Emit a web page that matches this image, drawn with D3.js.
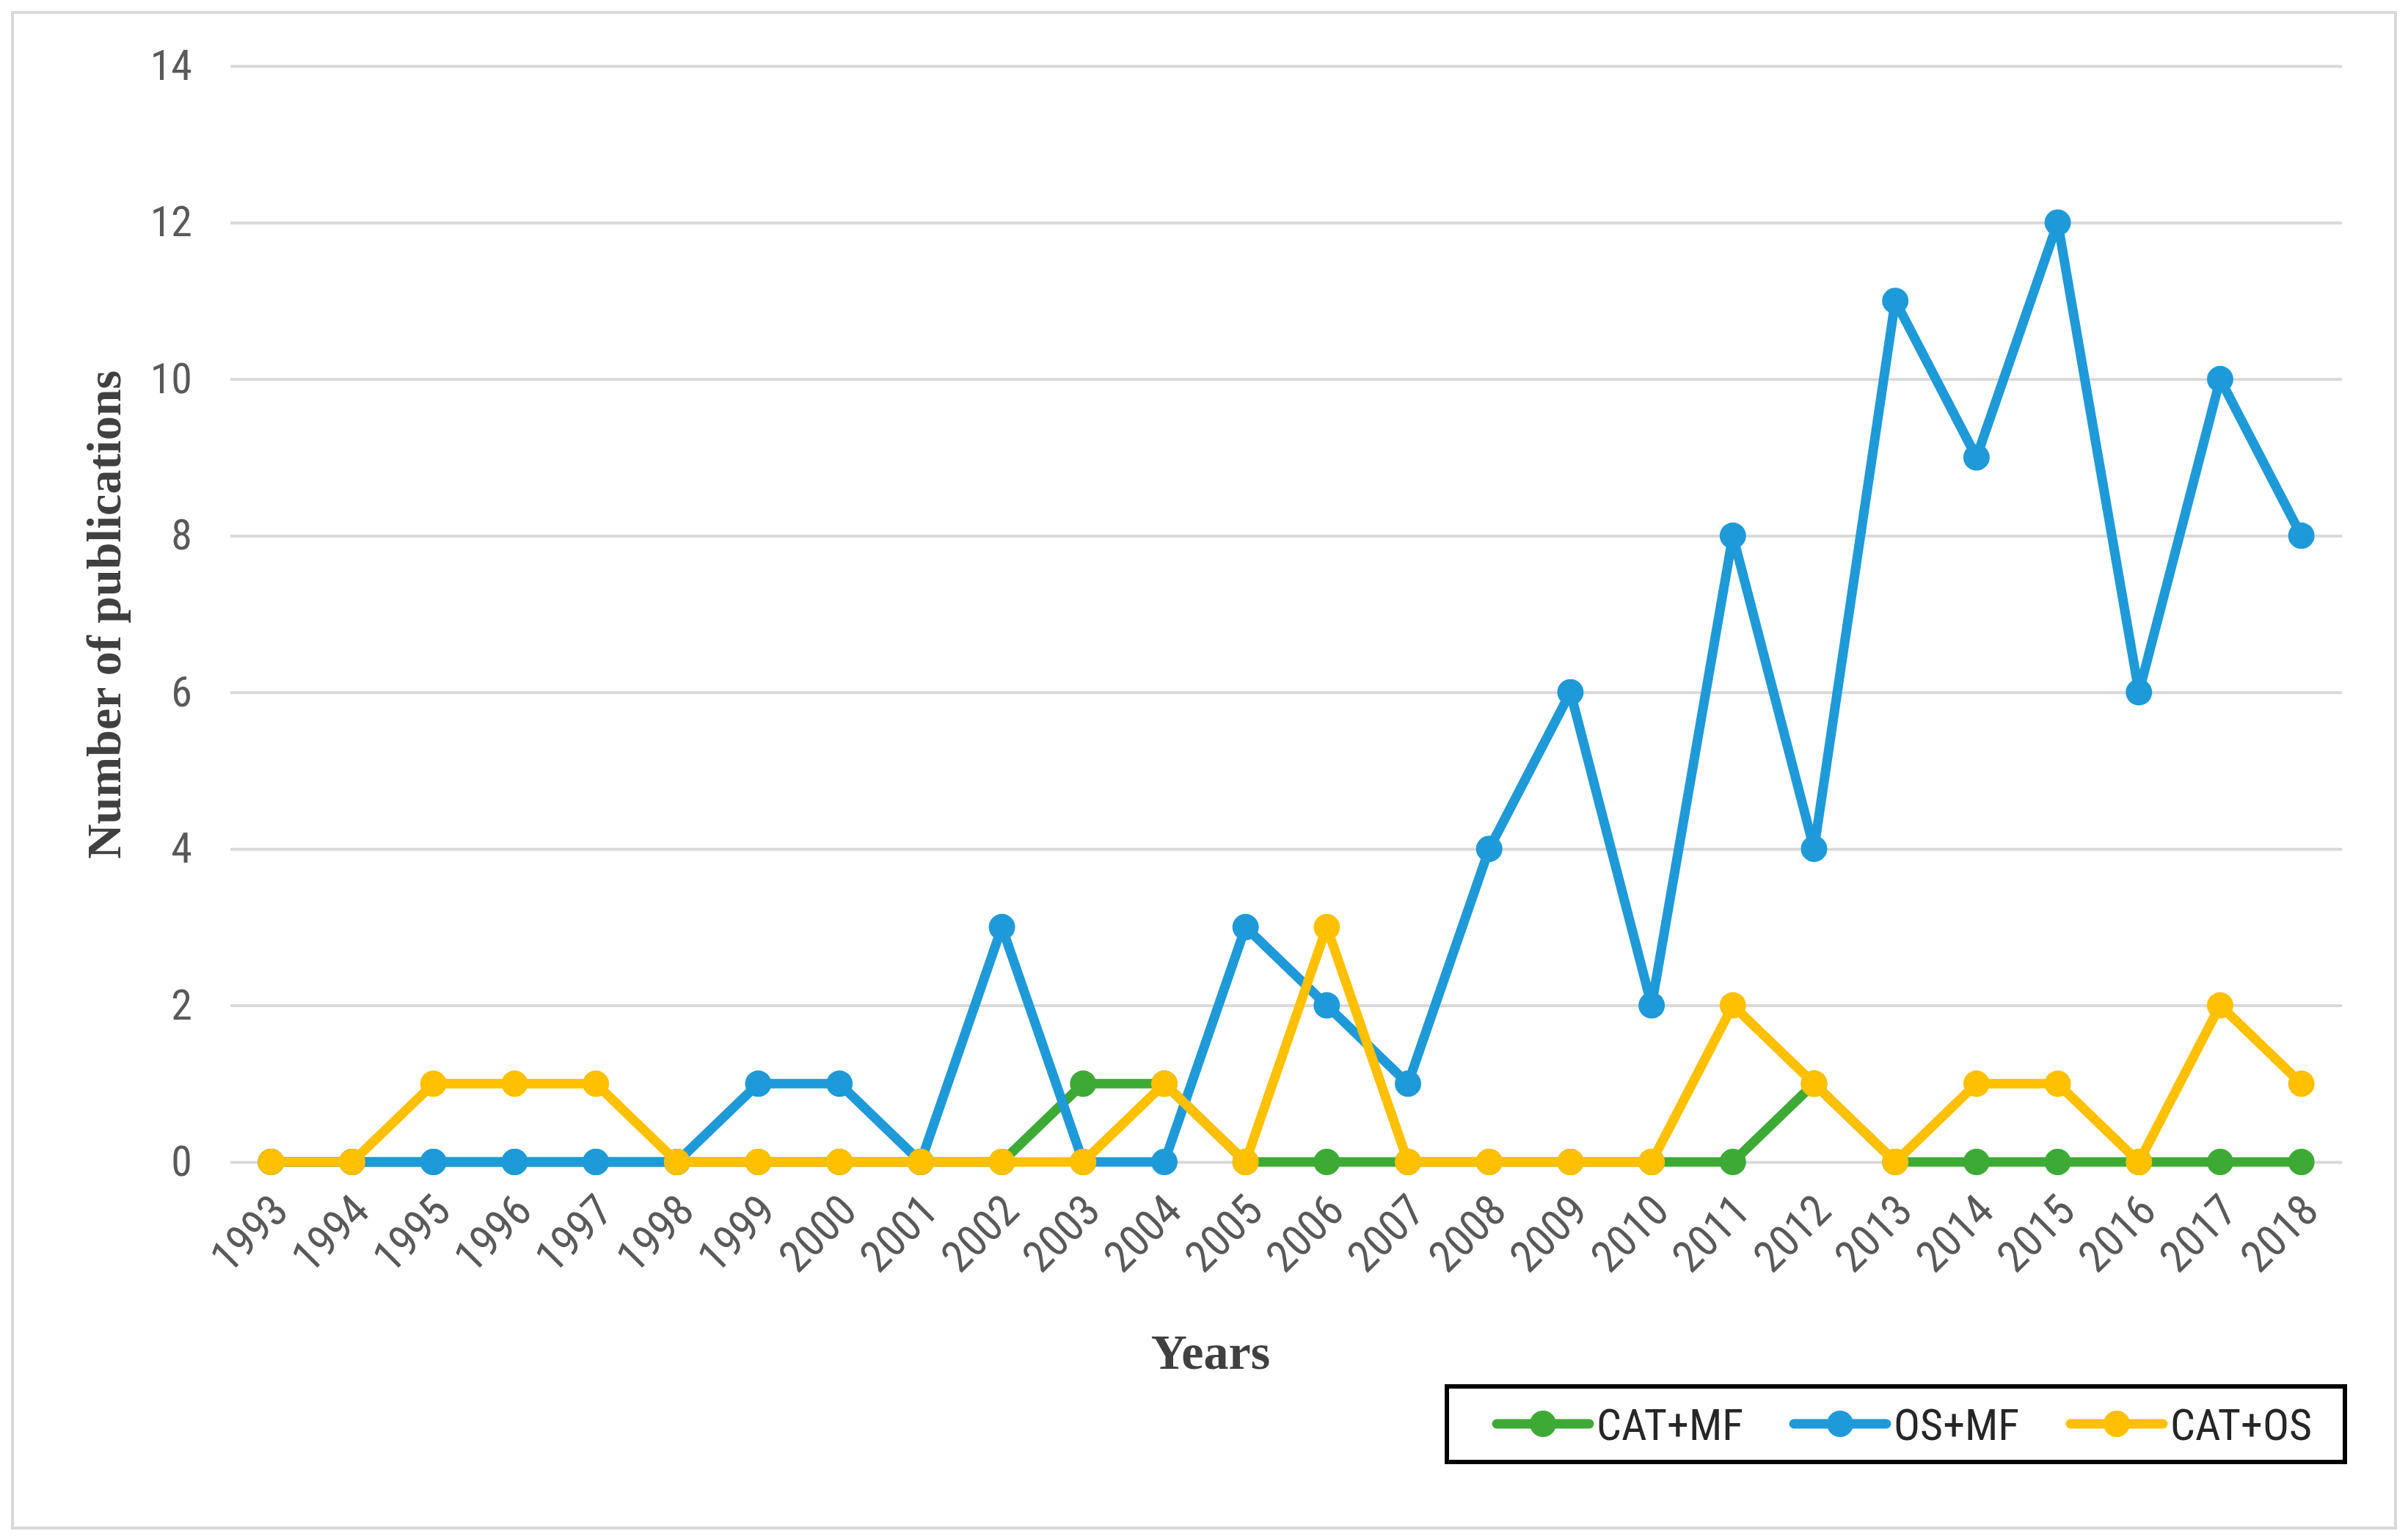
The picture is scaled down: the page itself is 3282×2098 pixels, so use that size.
<!DOCTYPE html>
<html>
<head>
<meta charset="utf-8">
<script src="https://cdn.jsdelivr.net/npm/d3@7"></script>
<style>
  body { margin: 0; background: #fff; }
  .tick text { font-family: "Liberation Sans Narrow", "Roboto Condensed", "Liberation Sans", sans-serif; }
</style>
</head>
<body>
<svg id="chart"></svg>
<script>
// Data
const years = d3.range(1993, 2019).map(String);
const catMf = [0,0,0,0,0,0,0,0,0,0,1,1,0,0,0,0,0,0,0,1,0,0,0,0,0,0];
const osMf  = [0,0,0,0,0,0,1,1,0,3,0,0,3,2,1,4,6,2,8,4,11,9,12,6,10,8];
const catOs = [0,0,1,1,1,0,0,0,0,0,0,1,0,3,0,0,0,0,2,1,0,1,1,0,2,1];
const yTicks = [0, 2, 4, 6, 8, 10, 12, 14];
const seriesNames = ["CAT+MF", "OS+MF", "CAT+OS"];
const seriesColors = ["#3DAA36", "#1F9AD8", "#FFC000"];

// Chart dimensions
const Width = 3282;
const Height = 2098;
const plotLeft = 314, plotRight = 3192, plotTop = 90, plotBottom = 1584;

const svg = d3.select("#chart")
  .attr("width", Width)
  .attr("height", Height);

// Outer frame
svg.append("rect")
  .attr("x", 17).attr("y", 17)
  .attr("width", Width - 34).attr("height", Height - 32)
  .attr("fill", "#fff")
  .attr("stroke", "#D9D9D9")
  .attr("stroke-width", 4);

// Scales
const xScale = d3.scalePoint()
  .domain(years)
  .range([plotLeft, plotRight])
  .padding(0.5);

const yScale = d3.scaleLinear()
  .domain([0, 14])
  .range([plotBottom, plotTop]);

// Y axis with gridlines
const yAxis = svg.append("g")
  .attr("transform", `translate(${plotLeft},0)`)
  .call(d3.axisLeft(yScale).tickValues(yTicks).tickSize(-(plotRight - plotLeft)).tickPadding(52));
yAxis.select(".domain").remove();
yAxis.selectAll("line").attr("stroke", "#D9D9D9").attr("stroke-width", 4);
yAxis.selectAll("text")
  .attr("fill", "#595959")
  .style("font-size", "58px");

// X axis labels
const xAxis = svg.append("g")
  .attr("transform", `translate(0,${plotBottom})`)
  .call(d3.axisBottom(xScale).tickSize(0));
xAxis.select(".domain").remove();
xAxis.selectAll("text")
  .attr("fill", "#595959")
  .style("font-size", "60px")
  .attr("text-anchor", "end")
  .attr("y", 0)
  .attr("dy", 0)
  .attr("transform", "translate(26,70) rotate(-45)");

// Lines and markers
const allSeries = [catMf, osMf, catOs];
const line = d3.line()
  .x((d, i) => xScale(years[i]))
  .y(d => yScale(d));

allSeries.forEach((values, s) => {
  const g = svg.append("g");
  g.append("path")
    .datum(values)
    .attr("d", line)
    .attr("fill", "none")
    .attr("stroke", seriesColors[s])
    .attr("stroke-width", 13)
    .attr("stroke-linejoin", "round");
  g.selectAll("circle")
    .data(values)
    .enter()
    .append("circle")
    .attr("cx", (d, i) => xScale(years[i]))
    .attr("cy", d => yScale(d))
    .attr("r", 18)
    .attr("fill", seriesColors[s]);
});

// Axis titles
svg.append("text")
  .attr("x", 1650)
  .attr("y", 1866)
  .attr("text-anchor", "middle")
  .style("font-family", "'Liberation Serif', 'Times New Roman', serif")
  .style("font-weight", "bold")
  .style("font-size", "68px")
  .attr("fill", "#404040")
  .text("Years");

svg.append("text")
  .attr("transform", "translate(164,838) rotate(-90)")
  .attr("text-anchor", "middle")
  .style("font-family", "'Liberation Serif', 'Times New Roman', serif")
  .style("font-weight", "bold")
  .style("font-size", "66px")
  .attr("fill", "#404040")
  .text("Number of publications");

// Legend
const legend = svg.append("g");
legend.append("rect")
  .attr("x", 1972).attr("y", 1890)
  .attr("width", 1224).attr("height", 103)
  .attr("fill", "#fff")
  .attr("stroke", "#000")
  .attr("stroke-width", 6);

const legendX = [2040, 2445, 2822];
const items = legend.selectAll("g.item")
  .data(seriesNames)
  .enter()
  .append("g")
  .attr("class", "item")
  .attr("transform", (d, i) => `translate(${legendX[i]},1941)`);
items.append("line")
  .attr("x1", 0).attr("x2", 126)
  .attr("stroke", (d, i) => seriesColors[i])
  .attr("stroke-width", 13)
  .attr("stroke-linecap", "round");
items.append("circle")
  .attr("cx", 63)
  .attr("r", 18)
  .attr("fill", (d, i) => seriesColors[i]);
items.append("text")
  .attr("x", 136)
  .attr("dy", "0.36em")
  .style("font-family", "'Liberation Sans Narrow', 'Roboto Condensed', 'Liberation Sans', sans-serif")
  .style("font-size", "60px")
  .attr("fill", "#262626")
  .text(d => d);
</script>
</body>
</html>
